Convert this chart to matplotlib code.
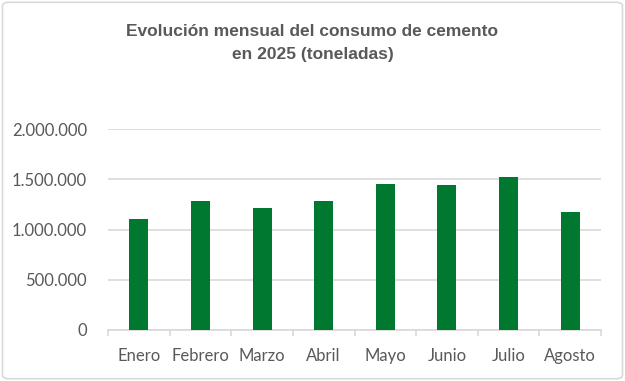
import matplotlib.pyplot as plt
from matplotlib.patches import FancyBboxPatch
from matplotlib.ticker import FuncFormatter, FixedLocator

meses = ['Enero', 'Febrero', 'Marzo', 'Abril', 'Mayo', 'Junio', 'Julio', 'Agosto']
consumo = [1104000, 1284000, 1214000, 1284000, 1453000, 1443000, 1522000, 1174000]

gris = '#595959'
verde = '#00782F'

fig = plt.figure(figsize=(6.25, 3.81), dpi=100)
borde = FancyBboxPatch((0.004, 0.006), 0.992, 0.988,
                       boxstyle='round,pad=0,rounding_size=0.01',
                       transform=fig.transFigure, facecolor='white',
                       edgecolor='#D9D9D9', linewidth=1.2, zorder=-1)
fig.patches.append(borde)

ax = fig.add_axes([108 / 625, 51 / 381, 493 / 625, 201 / 381])
ax.patch.set_alpha(0)
x = range(len(meses))
ax.bar(x, consumo, width=0.31, color=verde, zorder=3)

ax.set_xlim(-0.5, len(meses) - 0.5)
ax.set_ylim(0, 2000000)
ax.set_yticks([0, 500000, 1000000, 1500000, 2000000])
ax.yaxis.set_major_formatter(FuncFormatter(lambda v, p: f'{int(v):,}'.replace(',', '.')))
ax.grid(axis='y', color='#D9D9D9', linewidth=1.2, zorder=0)

ax.set_xticks(list(x))
ax.set_xticklabels(meses)
ax.xaxis.set_minor_locator(FixedLocator([i - 0.5 for i in range(len(meses) + 1)]))
ax.tick_params(axis='x', which='major', length=0, pad=13, labelsize=12, labelcolor=gris)
ax.tick_params(axis='x', which='minor', length=4, color='#D9D9D9', width=1.2)
ax.tick_params(axis='y', length=0, pad=15, labelsize=12, labelcolor=gris)
for lab in ax.get_xticklabels() + ax.get_yticklabels():
    lab.set_family('Lato')

for s in ['top', 'right', 'left']:
    ax.spines[s].set_visible(False)
ax.spines['bottom'].set_color('#D9D9D9')
ax.spines['bottom'].set_linewidth(1.2)

fig.text(0.5, 1 - 43 / 381, 'Evolución mensual del consumo de cemento\nen 2025 (toneladas)',
         ha='center', va='center', fontsize=12.5, fontweight='bold', color=gris,
         family='Liberation Sans', linespacing=1.7)

fig.savefig('out.png', dpi=100)
